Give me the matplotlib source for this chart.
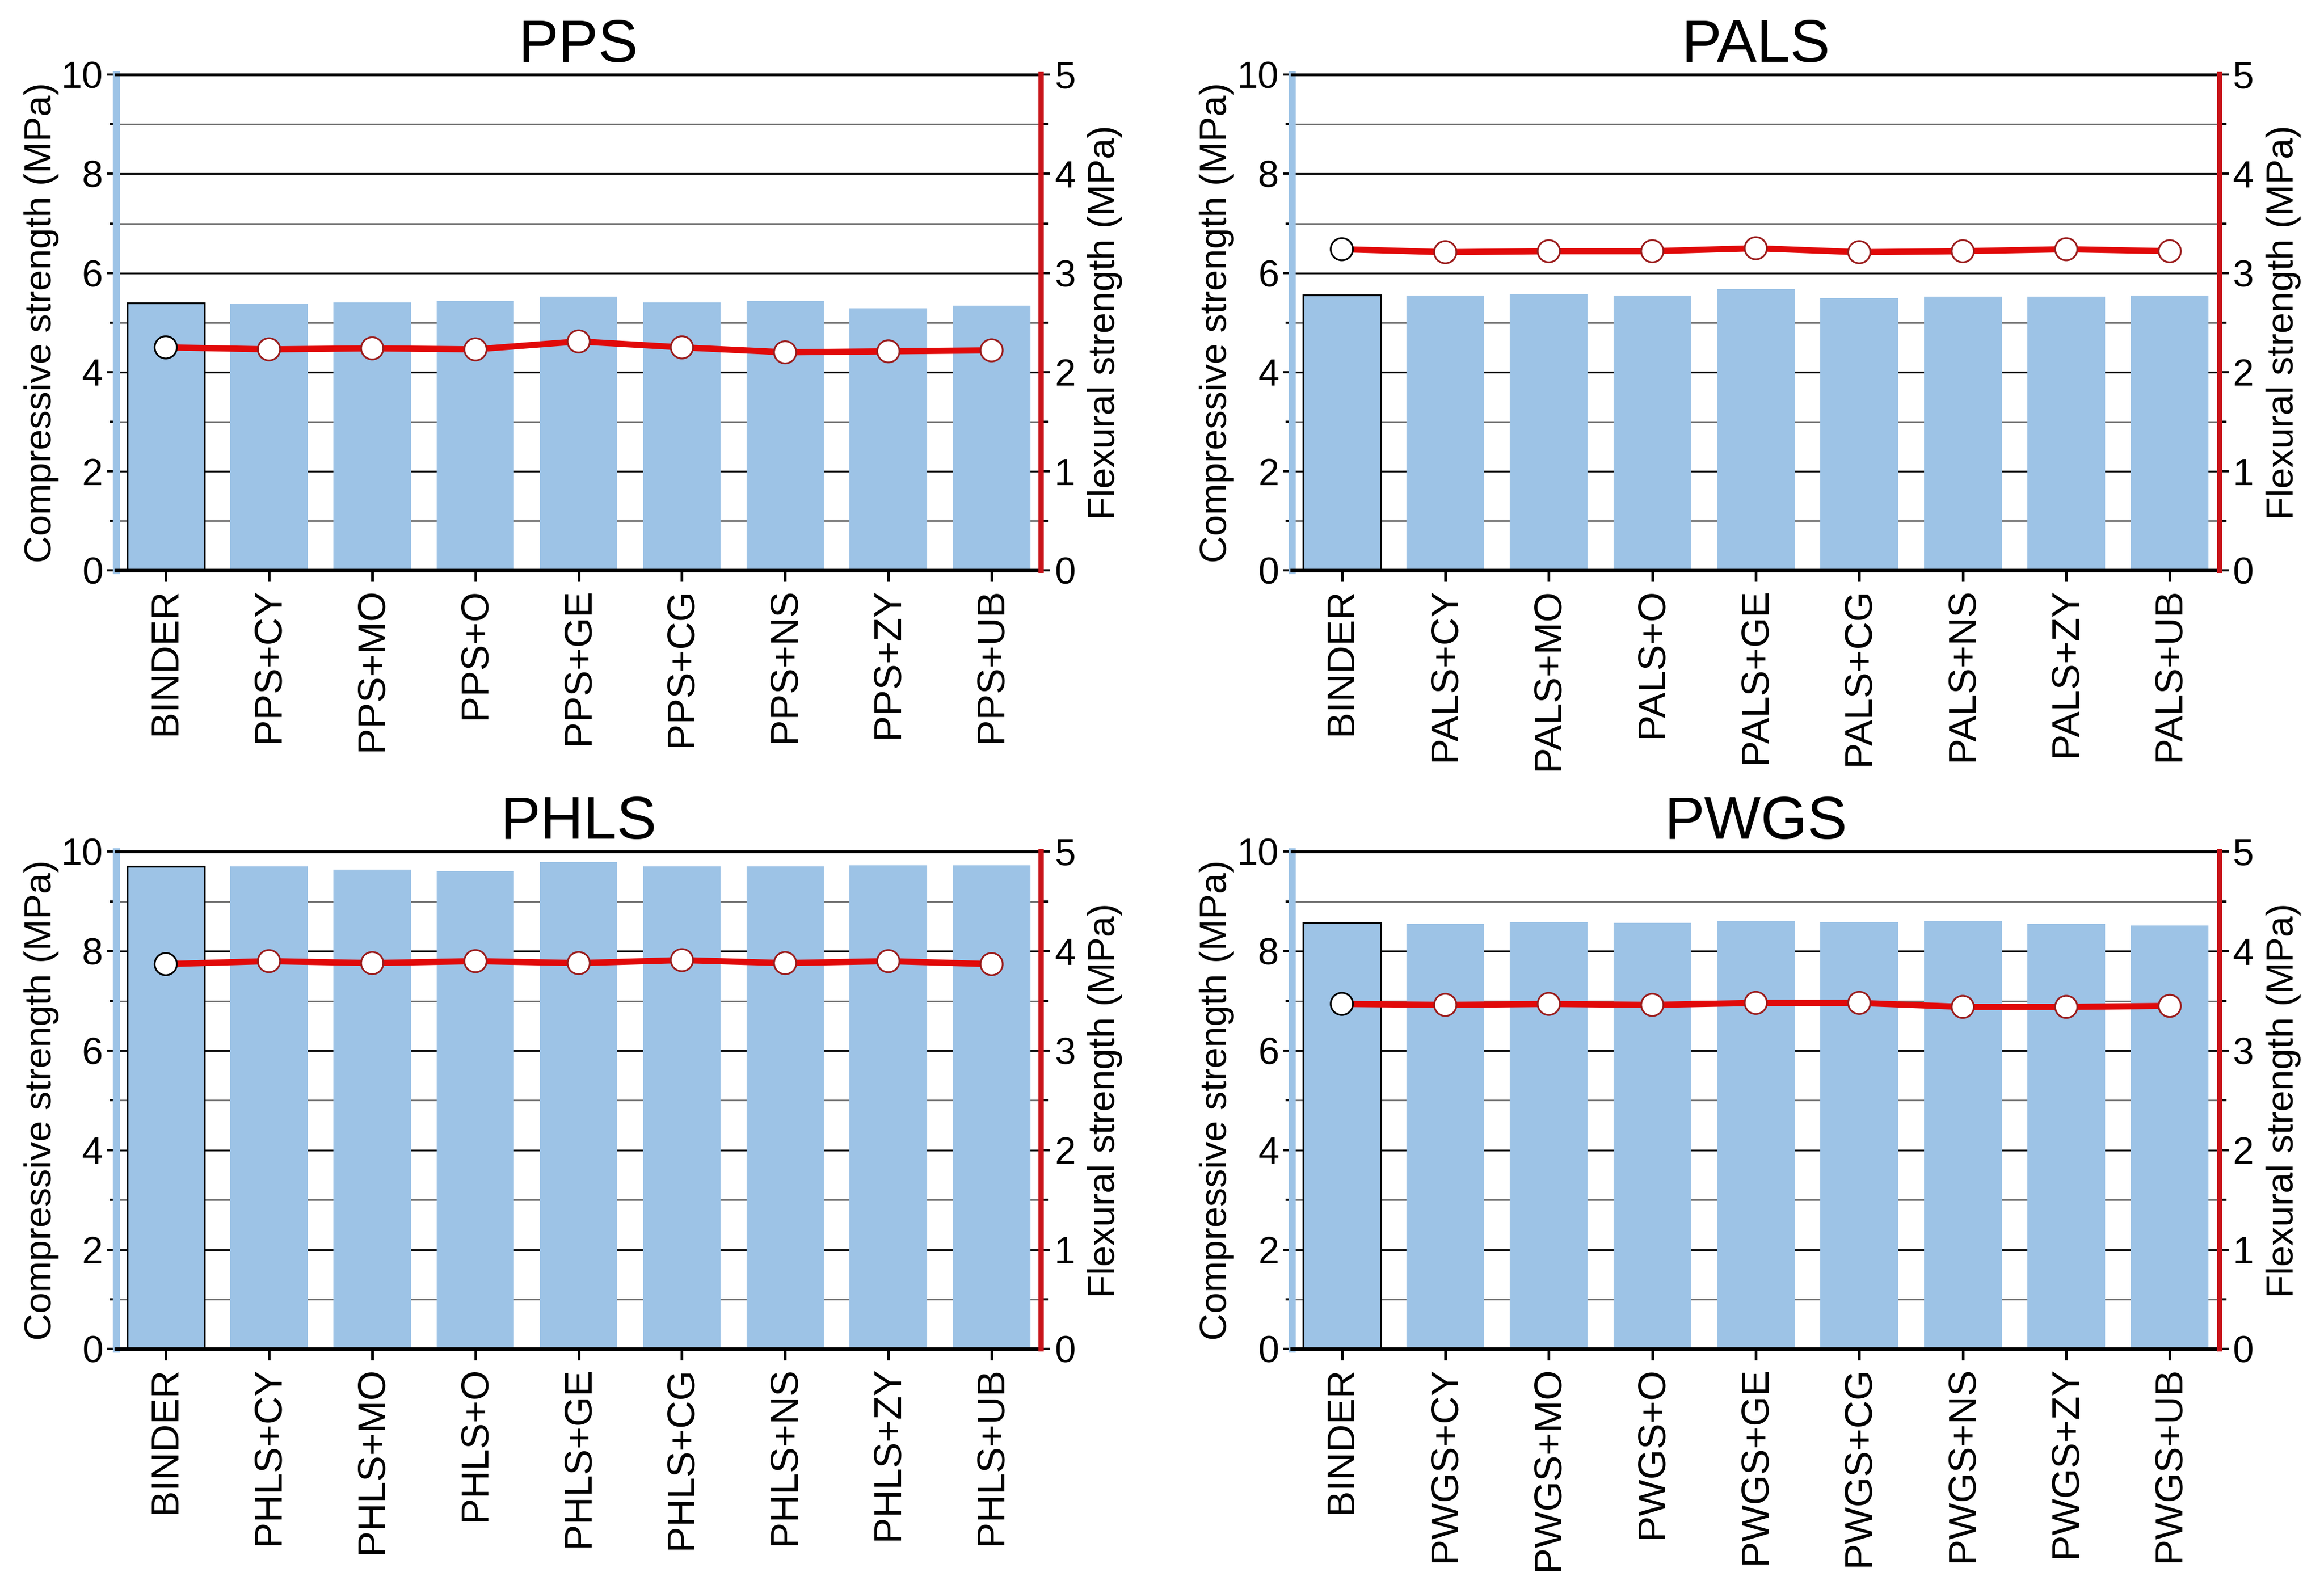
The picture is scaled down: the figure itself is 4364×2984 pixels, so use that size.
import numpy as np
import matplotlib.pyplot as plt
from matplotlib.ticker import MultipleLocator

plt.rcParams['font.family'] = ['Liberation Sans', 'DejaVu Sans']

suffixes = ['CY', 'MO', 'O', 'GE', 'CG', 'NS', 'ZY', 'UB']
panels = ['PPS', 'PALS', 'PHLS', 'PWGS']

# compressive strength (MPa), left axis
comp_pps = [5.40, 5.38, 5.41, 5.44, 5.52, 5.41, 5.44, 5.29, 5.34]
comp_pals = [5.56, 5.55, 5.58, 5.55, 5.67, 5.49, 5.52, 5.52, 5.55]
comp_phls = [9.70, 9.70, 9.64, 9.61, 9.79, 9.70, 9.70, 9.73, 9.73]
comp_pwgs = [8.57, 8.55, 8.58, 8.57, 8.60, 8.58, 8.60, 8.55, 8.52]

# flexural strength (MPa), right axis
flex_pps = [2.25, 2.23, 2.24, 2.23, 2.31, 2.25, 2.20, 2.21, 2.22]
flex_pals = [3.24, 3.21, 3.22, 3.22, 3.25, 3.21, 3.22, 3.24, 3.22]
flex_phls = [3.87, 3.90, 3.88, 3.90, 3.88, 3.91, 3.88, 3.90, 3.87]
flex_pwgs = [3.47, 3.46, 3.47, 3.46, 3.48, 3.48, 3.44, 3.44, 3.45]

comp_all = [comp_pps, comp_pals, comp_phls, comp_pwgs]
flex_all = [flex_pps, flex_pals, flex_phls, flex_pwgs]

bar_col = '#9DC3E6'
red_axis = '#C8141A'
red_line = '#E10A0A'

fig = plt.figure(figsize=(4364/300, 2984/300), dpi=300)
boxes = [[0.050, 0.641, 0.398, 0.312],
         [0.556, 0.641, 0.399, 0.312],
         [0.050, 0.151, 0.398, 0.313],
         [0.556, 0.151, 0.399, 0.313]]

for i in range(4):
    name = panels[i]
    labels = ['BINDER'] + [name + '+' + s for s in suffixes]
    x = np.arange(len(labels))
    ax = fig.add_axes(boxes[i])
    ax2 = ax.twinx()

    ax.set_axisbelow(True)
    edges = ['black'] + ['none'] * 8
    ax.bar(x, comp_all[i], width=0.75, color=bar_col, edgecolor=edges, linewidth=0.8, zorder=2)
    ax.set_xlim(-0.48, 8.48)
    ax.set_ylim(0, 10)
    ax.yaxis.set_major_locator(MultipleLocator(2))
    ax.yaxis.set_minor_locator(MultipleLocator(1))
    ax.grid(axis='y', which='major', color='black', linewidth=0.8, zorder=0)
    ax.grid(axis='y', which='minor', color='#707070', linewidth=0.7, zorder=0)
    ax.set_xticks(x)
    ax.set_xticklabels(labels, rotation=90, fontsize=17.5)
    ax.tick_params(axis='x', length=5, width=1.2, pad=3)
    ax.tick_params(axis='y', which='major', length=4, width=1, labelsize=17, pad=2)
    ax.tick_params(axis='y', which='minor', length=3, width=1)
    ax.set_ylabel('Compressive strength (MPa)', fontsize=17)
    ax.yaxis.set_label_coords(-0.062, 0.5)
    ax.set_title(name, fontsize=27, pad=-3)

    ax.spines['left'].set_color(bar_col)
    ax.spines['left'].set_linewidth(3.2)
    ax.spines['right'].set_visible(False)
    ax.spines['top'].set_linewidth(1.3)
    ax.spines['bottom'].set_linewidth(1.6)

    ax2.plot(x, flex_all[i], color=red_line, linewidth=2.8, zorder=3)
    ax2.scatter(x, flex_all[i], s=100, color='white',
                edgecolors=['black'] + ['#9B1C1C'] * 8, linewidths=0.8, zorder=4)
    ax2.set_ylim(0, 5)
    ax2.yaxis.set_major_locator(MultipleLocator(1))
    ax2.yaxis.set_minor_locator(MultipleLocator(0.5))
    ax2.tick_params(axis='y', which='major', length=4, width=1, labelsize=17, pad=2)
    ax2.tick_params(axis='y', which='minor', length=3, width=1)
    ax2.set_ylabel('Flexural strength (MPa)', fontsize=17)
    ax2.yaxis.set_label_coords(1.05, 0.5)
    ax2.spines['right'].set_color(red_axis)
    ax2.spines['right'].set_linewidth(2.4)
    ax2.spines['left'].set_visible(False)
    ax2.spines['top'].set_visible(False)
    ax2.spines['bottom'].set_visible(False)

fig.savefig('out.png', dpi=300)
